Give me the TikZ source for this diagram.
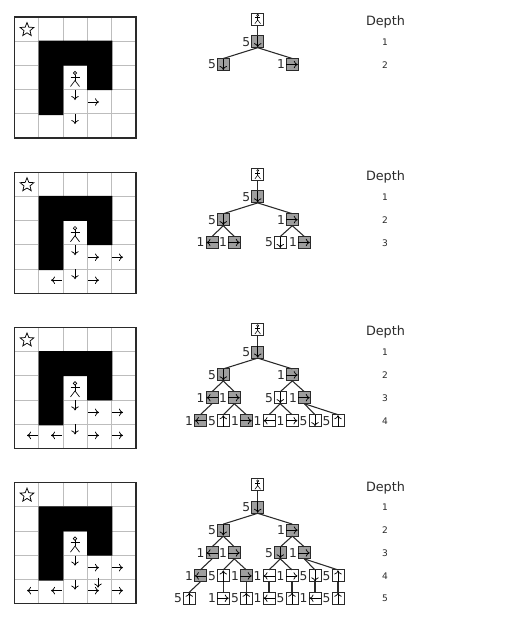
\documentclass[tikz,border=0pt]{standalone}
\usepackage{fontspec}
\setmainfont{DejaVu Sans}
\usetikzlibrary{arrows.meta,shapes.geometric}
\definecolor{nodegray}{HTML}{9E9E9E}
\definecolor{gridgray}{HTML}{BDBDBD}
\definecolor{inkdark}{HTML}{2A2A2A}
\tikzset{
  x=0.75pt,y=-0.75pt,
  tnode/.style={draw=inkdark,line width=0.7pt,minimum size=9pt,inner sep=0pt,outer sep=0pt,rectangle},
  tlab/.style={font=\fontsize{9.2}{10}\selectfont,text=inkdark,inner sep=0pt},
  tarrow/.style={draw=black,line width=0.55pt,shorten >=0.4pt,-{To[length=3pt,width=5.6pt]}},
  tedge/.style={draw=inkdark,line width=0.8pt},
  garrow/.style={draw=black,line width=0.55pt,-{To[length=3pt,width=5.6pt]}},
  headtxt/.style={font=\fontsize{9.6}{11}\selectfont,text=inkdark,inner sep=0pt},
  numtxt/.style={font=\fontsize{6.8}{8}\selectfont,text=inkdark,inner sep=0pt},
  fig/.style={draw=black,line width=0.4pt},
}
% stick figure centred on a point
\newcommand\stickman[3]{%
  \begin{scope}[shift={(#1)},scale=#2,fig,line width=#3]
    \draw (0,-6) circle[radius=1.7];
    \draw (0,-4.3) -- (0,1.5);
    \draw (-4.5,-2) -- (4.5,-2);
    \draw (-4.5,7.5) -- (0,1.5) -- (4.5,7.5);
  \end{scope}}
\newcommand\tn[7]{%
  \node[tnode,fill=#7,label={[tlab,label distance=0.9pt]left:#6}] (\P#1) at (#2,#3) {};
  \draw[tarrow] (\P#1.#4) -- (\P#1.#5);}
\newcommand\te[2]{\draw[tedge] (\P#1.south) -- (\P#2.north);}
\newcommand\ga[5]{%
  \coordinate (\P#1s) at (#2,#3);
  \coordinate (\P#1e) at (#4,#5);
  \draw[garrow] (\P#1s) -- (\P#1e);}
% grid panel
\newcommand\gridpanel{%
  \foreach \i in {1,2,3,4}{
    \draw[gridgray,line width=0.75pt] (14.5+24.3*\i,17) -- (14.5+24.3*\i,138);
    \draw[gridgray,line width=0.75pt] (14.5,17+24.2*\i) -- (136,17+24.2*\i);}
  \fill[black] (38.7,40.7) -- (112.3,40.7) -- (112.3,90) -- (87,90) -- (87,65.7)
     -- (63.3,65.7) -- (63.3,115) -- (38.7,115) -- cycle;
  \draw[inkdark,line width=0.8pt] (14.5,17) rectangle (136,138);
  \node[star,star points=5,star point ratio=2.3,draw=black,line width=0.55pt,minimum size=10.8pt,inner sep=0pt] (\P star) at (27,29.7) {};
  \coordinate (\P man) at (75,79);
  \stickman{\P man}{1}{0.5pt}
  \ga{g1}{75}{90}{75}{100}
  \ga{g2}{75}{114}{75}{124}
  \ga{g3}{88}{102}{99}{102}}
\newcommand\treetop{%
  \node[tnode,fill=white] (\P root) at (257.7,19) {};
  \stickman{\P root}{0.62}{0.4pt}
  \tn{a}{257.7}{41.7}{north}{south}{5}{nodegray}
  \tn{l}{223.3}{64.5}{north}{south}{5}{nodegray}
  \tn{r}{292.3}{64.5}{west}{east}{1}{nodegray}
  \draw[tedge] (\P root.south) -- (\P a.north);
  \te{a}{l}
  \te{a}{r}}
% third level; #1 = fill of the node reached by going down
\newcommand\treethird[1]{%
  \tn{ll}{212}{87.3}{east}{west}{1}{nodegray}
  \tn{lr}{234.3}{87.3}{west}{east}{1}{nodegray}
  \tn{rl}{280.3}{87.3}{north}{south}{5}{#1}
  \tn{rr}{304.3}{87.3}{west}{east}{1}{nodegray}
  \te{l}{ll}\te{l}{lr}\te{r}{rl}\te{r}{rr}}
\newcommand\treefourth{%
  \tn{d1}{200.3}{110.3}{east}{west}{1}{nodegray}
  \tn{d2}{223.3}{110.3}{south}{north}{5}{white}
  \tn{d3}{246.3}{110.3}{west}{east}{1}{nodegray}
  \tn{d4}{269}{110.3}{east}{west}{1}{white}
  \tn{d5}{292}{110.3}{west}{east}{1}{white}
  \tn{d6}{315}{110.3}{north}{south}{5}{white}
  \tn{d7}{338}{110.3}{south}{north}{5}{white}
  \te{ll}{d1}\te{lr}{d2}\te{lr}{d3}\te{rl}{d4}\te{rl}{d5}\te{rr}{d6}\te{rr}{d7}}
\newcommand\treefifth{%
  \tn{e1}{189.3}{132.6}{south}{north}{5}{white}
  \tn{e2}{223.3}{132.6}{west}{east}{1}{white}
  \tn{e3}{246.3}{132.6}{south}{north}{5}{white}
  \tn{e4}{269}{132.6}{east}{west}{1}{white}
  \tn{e5}{292}{132.6}{south}{north}{5}{white}
  \tn{e6}{315}{132.6}{east}{west}{1}{white}
  \tn{e7}{338}{132.6}{south}{north}{5}{white}
  \te{d1}{e1}\te{d2}{e2}\te{d3}{e3}\te{d4}{e4}\te{d5}{e5}\te{d6}{e6}\te{d7}{e7}}
\newcommand\depthhead{\node[headtxt] (\P depth) at (385.5,22) {Depth};}
\newcommand\dnum[2]{\node[numtxt] (\P n#1) at (385,#2) {#1};}
\begin{document}
\begin{tikzpicture}
\useasboundingbox (0,0) rectangle (504,621);
\fill[white] (0,0) rectangle (504,621);
% panel 1
\begin{scope}
  \def\P{a}
  \gridpanel
  \treetop
  \depthhead
  \dnum{1}{42}\dnum{2}{65}
\end{scope}
% panel 2
\begin{scope}[shift={(0,155.2)}]
  \def\P{b}
  \gridpanel
  \ga{g4}{112}{102}{123}{102}
  \ga{g5}{62}{125}{51}{125}
  \ga{g7}{88}{125}{99}{125}
  \treetop
  \treethird{white}
  \depthhead
  \dnum{1}{42}\dnum{2}{65}\dnum{3}{88}
\end{scope}
% panel 3
\begin{scope}[shift={(0,310.4)}]
  \def\P{c}
  \gridpanel
  \ga{g4}{112}{102}{123}{102}
  \ga{g5}{62}{125}{51}{125}
  \ga{g6}{38}{125}{27}{125}
  \ga{g7}{88}{125}{99}{125}
  \ga{g8}{112}{125}{123}{125}
  \treetop
  \treethird{white}
  \treefourth
  \depthhead
  \dnum{1}{42}\dnum{2}{65}\dnum{3}{88}\dnum{4}{111}
\end{scope}
% panel 4
\begin{scope}[shift={(0,465.6)}]
  \def\P{d}
  \gridpanel
  \ga{g4}{112}{102}{123}{102}
  \ga{g5}{62}{125}{51}{125}
  \ga{g6}{38}{125}{27}{125}
  \ga{g7}{88}{125}{99}{125}
  \ga{g8}{112}{125}{123}{125}
  \ga{g9}{98}{112}{98}{122}
  \treetop
  \treethird{nodegray}
  \treefourth
  \treefifth
  \depthhead
  \dnum{1}{42}\dnum{2}{65}\dnum{3}{88}\dnum{4}{111}\dnum{5}{133}
\end{scope}
\end{tikzpicture}
\end{document}
